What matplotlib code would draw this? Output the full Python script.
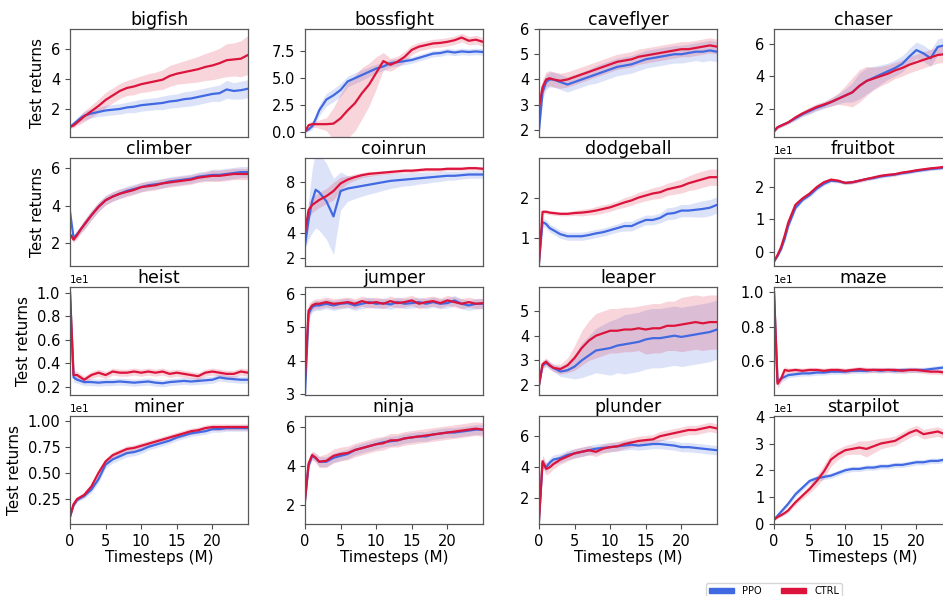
import numpy as np
import matplotlib
matplotlib.use("Agg")
import matplotlib.pyplot as plt
from matplotlib.patches import Patch
from matplotlib.ticker import MaxNLocator

# timesteps (M) at which the curves were read
steps = [0, 0.5, 1, 1.5, 2, 3, 4, 5, 6, 7, 8, 9, 10, 11, 12, 13, 14, 15, 16, 17, 18, 19, 20, 21, 22, 23, 24, 25]

envs = ["bigfish", "bossfight", "caveflyer", "chaser",
        "climber", "coinrun", "dodgeball", "fruitbot",
        "heist", "jumper", "leaper", "maze",
        "miner", "ninja", "plunder", "starpilot"]

bigfish_ppo = [0.8, 1.0, 1.2, 1.4, 1.55, 1.7, 1.8, 1.9, 1.95, 2.0, 2.1, 2.15, 2.25, 2.3, 2.35, 2.4, 2.5, 2.55, 2.65, 2.7, 2.8, 2.9, 3.0, 3.05, 3.3, 3.2, 3.25, 3.35]
bigfish_ppo_sd = [0.1, 0.15, 0.2, 0.25, 0.3, 0.3, 0.3, 0.35, 0.35, 0.35, 0.35, 0.4, 0.4, 0.4, 0.4, 0.45, 0.45, 0.45, 0.5, 0.5, 0.5, 0.5, 0.5, 0.55, 0.6, 0.55, 0.6, 0.6]
bigfish_ctrl = [0.8, 0.9, 1.1, 1.3, 1.5, 1.85, 2.2, 2.6, 2.9, 3.2, 3.4, 3.5, 3.65, 3.75, 3.85, 3.95, 4.2, 4.35, 4.45, 4.55, 4.65, 4.8, 4.9, 5.05, 5.25, 5.3, 5.35, 5.6]
bigfish_ctrl_sd = [0.1, 0.15, 0.2, 0.3, 0.35, 0.4, 0.45, 0.5, 0.5, 0.5, 0.5, 0.55, 0.55, 0.6, 0.6, 0.65, 0.7, 0.7, 0.75, 0.8, 0.85, 0.9, 0.95, 1.0, 1.1, 1.1, 1.2, 1.3]

bossfight_ppo = [0.0, 0.2, 0.5, 1.2, 2.0, 3.0, 3.4, 3.9, 4.7, 5.0, 5.3, 5.6, 5.9, 6.1, 6.4, 6.5, 6.6, 6.7, 6.9, 7.1, 7.3, 7.35, 7.5, 7.4, 7.5, 7.45, 7.5, 7.45]
bossfight_ppo_sd = [0.05, 0.2, 0.3, 0.4, 0.5, 0.6, 0.6, 0.6, 0.5, 0.5, 0.5, 0.45, 0.4, 0.4, 0.35, 0.35, 0.35, 0.3, 0.3, 0.3, 0.3, 0.3, 0.3, 0.3, 0.3, 0.3, 0.3, 0.3]
bossfight_ctrl = [0.0, 0.6, 0.7, 0.7, 0.7, 0.7, 0.75, 1.25, 2.0, 2.65, 3.6, 4.4, 5.5, 6.6, 6.25, 6.55, 7.0, 7.65, 7.95, 8.1, 8.25, 8.3, 8.4, 8.55, 8.8, 8.5, 8.6, 8.4]
bossfight_ctrl_sd = [0.05, 0.2, 0.3, 0.3, 0.4, 0.6, 1.5, 2.3, 2.6, 2.6, 2.4, 2.0, 1.5, 0.8, 0.6, 0.5, 0.5, 0.45, 0.4, 0.4, 0.4, 0.4, 0.4, 0.4, 0.4, 0.4, 0.4, 0.4]

caveflyer_ppo = [2.0, 3.5, 3.9, 4.0, 4.0, 3.9, 3.8, 3.9, 4.0, 4.1, 4.2, 4.3, 4.4, 4.5, 4.55, 4.6, 4.7, 4.8, 4.85, 4.9, 4.95, 5.0, 5.0, 5.05, 5.1, 5.1, 5.15, 5.1]
caveflyer_ppo_sd = [0.2, 0.3, 0.3, 0.3, 0.3, 0.3, 0.3, 0.3, 0.3, 0.3, 0.35, 0.35, 0.35, 0.35, 0.35, 0.35, 0.35, 0.35, 0.35, 0.35, 0.35, 0.35, 0.35, 0.35, 0.35, 0.4, 0.4, 0.4]
caveflyer_ctrl = [2.9, 3.7, 4.0, 4.05, 4.0, 3.95, 4.0, 4.1, 4.2, 4.3, 4.4, 4.5, 4.6, 4.7, 4.75, 4.8, 4.9, 4.95, 5.0, 5.05, 5.1, 5.15, 5.2, 5.2, 5.25, 5.3, 5.35, 5.3]
caveflyer_ctrl_sd = [0.2, 0.3, 0.3, 0.3, 0.3, 0.3, 0.3, 0.3, 0.3, 0.3, 0.3, 0.3, 0.3, 0.3, 0.3, 0.3, 0.3, 0.3, 0.3, 0.3, 0.3, 0.3, 0.3, 0.3, 0.3, 0.3, 0.3, 0.3]

chaser_ppo = [0.6, 0.85, 0.95, 1.05, 1.15, 1.4, 1.65, 1.85, 2.05, 2.2, 2.4, 2.6, 2.8, 3.0, 3.4, 3.7, 3.9, 4.1, 4.3, 4.5, 4.75, 5.2, 5.6, 5.4, 5.1, 5.8, 5.9, 6.0]
chaser_ppo_sd = [0.05, 0.1, 0.1, 0.1, 0.1, 0.15, 0.15, 0.2, 0.2, 0.2, 0.25, 0.3, 0.4, 0.6, 0.8, 0.8, 0.7, 0.6, 0.5, 0.5, 0.5, 0.5, 0.5, 0.5, 0.5, 0.5, 0.5, 0.5]
chaser_ctrl = [0.6, 0.85, 0.95, 1.05, 1.15, 1.45, 1.7, 1.9, 2.1, 2.25, 2.4, 2.6, 2.8, 3.0, 3.4, 3.7, 3.85, 4.0, 4.15, 4.35, 4.5, 4.7, 4.85, 5.0, 5.15, 5.3, 5.35, 5.4]
chaser_ctrl_sd = [0.05, 0.1, 0.1, 0.1, 0.1, 0.15, 0.15, 0.2, 0.2, 0.2, 0.25, 0.35, 0.6, 0.9, 1.0, 0.9, 0.7, 0.6, 0.55, 0.5, 0.5, 0.5, 0.5, 0.5, 0.5, 0.5, 0.5, 0.5]

climber_ppo = [3.7, 2.3, 2.5, 2.75, 3.0, 3.5, 3.95, 4.3, 4.5, 4.65, 4.8, 4.9, 5.0, 5.1, 5.15, 5.2, 5.3, 5.35, 5.4, 5.45, 5.55, 5.6, 5.65, 5.65, 5.7, 5.75, 5.8, 5.8]
climber_ppo_sd = [0.1, 0.15, 0.2, 0.2, 0.25, 0.25, 0.25, 0.25, 0.25, 0.25, 0.25, 0.25, 0.25, 0.25, 0.25, 0.25, 0.25, 0.25, 0.25, 0.25, 0.25, 0.25, 0.3, 0.3, 0.3, 0.3, 0.3, 0.3]
climber_ctrl = [2.5, 2.2, 2.45, 2.75, 3.0, 3.5, 3.95, 4.3, 4.5, 4.65, 4.75, 4.85, 5.0, 5.05, 5.1, 5.2, 5.25, 5.3, 5.35, 5.4, 5.5, 5.55, 5.6, 5.6, 5.65, 5.7, 5.7, 5.7]
climber_ctrl_sd = [0.1, 0.15, 0.2, 0.2, 0.25, 0.25, 0.25, 0.25, 0.25, 0.25, 0.25, 0.25, 0.25, 0.25, 0.25, 0.25, 0.25, 0.25, 0.25, 0.25, 0.25, 0.25, 0.3, 0.3, 0.3, 0.3, 0.3, 0.3]

coinrun_ppo = [3.0, 5.0, 6.5, 7.4, 7.2, 6.5, 5.3, 7.3, 7.5, 7.6, 7.7, 7.8, 7.9, 8.0, 8.1, 8.15, 8.2, 8.25, 8.3, 8.35, 8.4, 8.45, 8.5, 8.5, 8.55, 8.6, 8.6, 8.6]
coinrun_ppo_sd = [0.2, 1.5, 2.5, 3.0, 3.0, 3.0, 3.0, 1.5, 1.0, 0.9, 0.8, 0.75, 0.7, 0.65, 0.6, 0.55, 0.5, 0.5, 0.45, 0.45, 0.4, 0.4, 0.35, 0.35, 0.3, 0.3, 0.3, 0.3]
coinrun_ctrl = [4.0, 5.8, 6.2, 6.4, 6.6, 6.9, 7.3, 7.9, 8.2, 8.4, 8.55, 8.65, 8.7, 8.75, 8.8, 8.85, 8.9, 8.9, 8.95, 9.0, 9.0, 9.0, 9.05, 9.05, 9.05, 9.1, 9.1, 9.05]
coinrun_ctrl_sd = [0.3, 0.6, 0.6, 0.6, 0.6, 0.6, 0.7, 0.5, 0.3, 0.25, 0.2, 0.2, 0.15, 0.15, 0.15, 0.15, 0.15, 0.15, 0.15, 0.15, 0.15, 0.15, 0.15, 0.15, 0.15, 0.15, 0.15, 0.15]

dodgeball_ppo = [0.4, 1.4, 1.35, 1.25, 1.2, 1.1, 1.05, 1.05, 1.05, 1.08, 1.12, 1.15, 1.2, 1.25, 1.3, 1.3, 1.38, 1.45, 1.45, 1.5, 1.6, 1.62, 1.68, 1.68, 1.7, 1.72, 1.75, 1.82]
dodgeball_ppo_sd = [0.05, 0.1, 0.1, 0.1, 0.1, 0.1, 0.1, 0.1, 0.1, 0.1, 0.1, 0.1, 0.1, 0.1, 0.12, 0.12, 0.12, 0.12, 0.12, 0.12, 0.15, 0.15, 0.15, 0.15, 0.18, 0.2, 0.2, 0.2]
dodgeball_ctrl = [0.4, 1.65, 1.65, 1.63, 1.62, 1.6, 1.6, 1.62, 1.63, 1.65, 1.68, 1.72, 1.76, 1.82, 1.88, 1.93, 2.0, 2.05, 2.1, 2.13, 2.2, 2.24, 2.28, 2.35, 2.4, 2.45, 2.5, 2.5]
dodgeball_ctrl_sd = [0.05, 0.05, 0.05, 0.05, 0.05, 0.05, 0.05, 0.06, 0.08, 0.08, 0.1, 0.1, 0.1, 0.1, 0.12, 0.12, 0.13, 0.13, 0.14, 0.15, 0.15, 0.16, 0.17, 0.18, 0.2, 0.2, 0.2, 0.2]

fruitbot_ppo = [-3.0, -1.3, 0.8, 4.0, 8.0, 13.5, 16.0, 17.5, 19.5, 21.0, 22.0, 21.8, 21.3, 21.5, 22.0, 22.5, 22.8, 23.3, 23.6, 23.9, 24.3, 24.6, 25.0, 25.3, 25.6, 25.8, 26.0, 26.2]
fruitbot_ppo_sd = [0.2, 0.4, 0.5, 0.6, 0.6, 0.6, 0.6, 0.6, 0.6, 0.6, 0.6, 0.5, 0.5, 0.5, 0.5, 0.5, 0.5, 0.5, 0.5, 0.5, 0.5, 0.5, 0.5, 0.5, 0.5, 0.5, 0.5, 0.5]
fruitbot_ctrl = [-3.0, -1.0, 1.5, 5.0, 9.0, 14.5, 16.5, 18.0, 20.0, 21.5, 22.3, 22.0, 21.3, 21.5, 22.0, 22.5, 23.0, 23.5, 23.8, 24.0, 24.5, 24.8, 25.2, 25.5, 25.8, 26.0, 26.3, 26.4]
fruitbot_ctrl_sd = [0.2, 0.4, 0.5, 0.6, 0.6, 0.6, 0.6, 0.6, 0.6, 0.6, 0.6, 0.5, 0.5, 0.5, 0.5, 0.5, 0.5, 0.5, 0.5, 0.5, 0.5, 0.5, 0.5, 0.5, 0.5, 0.5, 0.5, 0.5]

heist_ppo = [10.0, 2.8, 2.6, 2.5, 2.4, 2.4, 2.35, 2.4, 2.4, 2.45, 2.4, 2.35, 2.4, 2.45, 2.35, 2.3, 2.4, 2.45, 2.5, 2.45, 2.5, 2.55, 2.6, 2.8, 2.7, 2.65, 2.6, 2.6]
heist_ppo_sd = [0.1, 0.4, 0.3, 0.3, 0.3, 0.3, 0.3, 0.3, 0.3, 0.3, 0.3, 0.3, 0.3, 0.3, 0.3, 0.3, 0.3, 0.3, 0.3, 0.3, 0.3, 0.3, 0.3, 0.3, 0.3, 0.3, 0.3, 0.3]
heist_ctrl = [10.0, 3.0, 3.0, 2.8, 2.6, 3.0, 3.2, 3.0, 3.3, 3.2, 3.2, 3.3, 3.2, 3.3, 3.2, 3.3, 3.1, 3.2, 3.1, 3.0, 2.9, 3.2, 3.3, 3.2, 3.1, 3.1, 3.3, 3.2]
heist_ctrl_sd = [0.1, 0.4, 0.3, 0.3, 0.3, 0.3, 0.3, 0.3, 0.3, 0.3, 0.3, 0.3, 0.3, 0.3, 0.3, 0.3, 0.3, 0.3, 0.3, 0.3, 0.3, 0.3, 0.3, 0.3, 0.3, 0.3, 0.3, 0.3]

jumper_ppo = [3.0, 5.4, 5.6, 5.65, 5.65, 5.7, 5.65, 5.7, 5.72, 5.65, 5.7, 5.75, 5.7, 5.72, 5.68, 5.75, 5.7, 5.72, 5.75, 5.7, 5.75, 5.7, 5.72, 5.8, 5.7, 5.65, 5.7, 5.7]
jumper_ppo_sd = [0.05, 0.2, 0.15, 0.15, 0.15, 0.15, 0.15, 0.15, 0.15, 0.15, 0.15, 0.15, 0.15, 0.15, 0.15, 0.15, 0.15, 0.15, 0.15, 0.15, 0.15, 0.15, 0.15, 0.15, 0.15, 0.15, 0.15, 0.15]
jumper_ctrl = [3.5, 5.5, 5.65, 5.7, 5.7, 5.75, 5.7, 5.72, 5.75, 5.7, 5.78, 5.72, 5.75, 5.7, 5.78, 5.72, 5.75, 5.8, 5.7, 5.75, 5.78, 5.72, 5.8, 5.75, 5.7, 5.75, 5.7, 5.72]
jumper_ctrl_sd = [0.05, 0.2, 0.15, 0.15, 0.15, 0.15, 0.15, 0.15, 0.15, 0.15, 0.15, 0.15, 0.15, 0.15, 0.15, 0.15, 0.15, 0.15, 0.15, 0.15, 0.15, 0.15, 0.15, 0.15, 0.15, 0.15, 0.15, 0.15]

leaper_ppo = [2.0, 2.8, 2.9, 2.8, 2.7, 2.55, 2.6, 2.75, 3.0, 3.2, 3.4, 3.45, 3.5, 3.6, 3.65, 3.7, 3.75, 3.85, 3.9, 3.9, 3.95, 4.0, 3.95, 4.0, 4.05, 4.1, 4.15, 4.25]
leaper_ppo_sd = [0.1, 0.15, 0.15, 0.15, 0.15, 0.2, 0.3, 0.5, 0.7, 0.8, 0.9, 1.0, 1.1, 1.1, 1.2, 1.2, 1.2, 1.2, 1.2, 1.2, 1.2, 1.2, 1.2, 1.2, 1.2, 1.2, 1.2, 1.2]
leaper_ctrl = [2.0, 2.85, 2.95, 2.8, 2.7, 2.65, 2.8, 3.1, 3.5, 3.8, 4.0, 4.1, 4.2, 4.2, 4.25, 4.25, 4.3, 4.25, 4.3, 4.3, 4.4, 4.4, 4.45, 4.5, 4.55, 4.5, 4.55, 4.55]
leaper_ctrl_sd = [0.1, 0.15, 0.15, 0.15, 0.15, 0.2, 0.3, 0.5, 0.7, 0.8, 0.9, 0.9, 0.9, 0.9, 0.9, 0.9, 0.9, 1.0, 1.0, 1.0, 1.0, 1.0, 1.1, 1.1, 1.1, 1.1, 1.1, 1.1]

maze_ppo = [10.0, 4.8, 5.0, 5.1, 5.2, 5.25, 5.3, 5.3, 5.35, 5.35, 5.4, 5.4, 5.4, 5.45, 5.45, 5.45, 5.5, 5.45, 5.5, 5.45, 5.5, 5.5, 5.5, 5.5, 5.55, 5.6, 5.65, 5.65]
maze_ppo_sd = [0.1, 0.2, 0.2, 0.2, 0.15, 0.15, 0.15, 0.15, 0.15, 0.15, 0.15, 0.15, 0.15, 0.15, 0.15, 0.15, 0.15, 0.15, 0.15, 0.15, 0.15, 0.15, 0.15, 0.15, 0.15, 0.15, 0.15, 0.15]
maze_ctrl = [10.0, 4.7, 5.0, 5.5, 5.45, 5.5, 5.45, 5.5, 5.5, 5.45, 5.5, 5.5, 5.45, 5.5, 5.55, 5.5, 5.5, 5.5, 5.5, 5.5, 5.45, 5.5, 5.5, 5.45, 5.4, 5.4, 5.35, 5.35]
maze_ctrl_sd = [0.1, 0.25, 0.2, 0.2, 0.15, 0.15, 0.15, 0.15, 0.15, 0.15, 0.15, 0.15, 0.15, 0.15, 0.15, 0.15, 0.15, 0.15, 0.15, 0.15, 0.15, 0.15, 0.15, 0.15, 0.15, 0.15, 0.15, 0.15]

miner_ppo = [0.8, 1.9, 2.4, 2.6, 2.8, 3.4, 4.4, 5.8, 6.3, 6.6, 6.9, 7.0, 7.2, 7.5, 7.7, 7.9, 8.1, 8.4, 8.6, 8.8, 8.9, 9.0, 9.2, 9.2, 9.3, 9.3, 9.3, 9.3]
miner_ppo_sd = [0.1, 0.2, 0.2, 0.2, 0.25, 0.3, 0.35, 0.35, 0.35, 0.35, 0.35, 0.35, 0.35, 0.3, 0.3, 0.3, 0.3, 0.3, 0.3, 0.3, 0.3, 0.3, 0.3, 0.3, 0.3, 0.3, 0.3, 0.3]
miner_ctrl = [0.8, 2.0, 2.5, 2.7, 2.9, 3.7, 5.0, 6.1, 6.7, 7.0, 7.3, 7.4, 7.6, 7.8, 8.0, 8.2, 8.4, 8.6, 8.8, 9.0, 9.1, 9.3, 9.4, 9.4, 9.4, 9.4, 9.4, 9.4]
miner_ctrl_sd = [0.1, 0.2, 0.2, 0.2, 0.25, 0.3, 0.3, 0.3, 0.3, 0.3, 0.3, 0.3, 0.3, 0.3, 0.3, 0.3, 0.3, 0.3, 0.3, 0.3, 0.3, 0.3, 0.3, 0.3, 0.3, 0.3, 0.3, 0.3]

ninja_ppo = [2.2, 4.0, 4.5, 4.4, 4.2, 4.2, 4.4, 4.5, 4.6, 4.8, 4.9, 5.0, 5.1, 5.2, 5.25, 5.3, 5.4, 5.45, 5.5, 5.5, 5.6, 5.65, 5.7, 5.7, 5.75, 5.8, 5.85, 5.85]
ninja_ppo_sd = [0.1, 0.2, 0.2, 0.2, 0.25, 0.25, 0.25, 0.25, 0.25, 0.25, 0.25, 0.25, 0.25, 0.25, 0.25, 0.25, 0.25, 0.25, 0.25, 0.25, 0.25, 0.25, 0.25, 0.25, 0.25, 0.25, 0.25, 0.25]
ninja_ctrl = [2.2, 4.1, 4.55, 4.4, 4.2, 4.25, 4.5, 4.6, 4.65, 4.8, 4.9, 5.0, 5.1, 5.15, 5.3, 5.3, 5.4, 5.45, 5.5, 5.55, 5.6, 5.65, 5.7, 5.75, 5.8, 5.85, 5.9, 5.85]
ninja_ctrl_sd = [0.1, 0.2, 0.2, 0.25, 0.3, 0.35, 0.35, 0.35, 0.35, 0.35, 0.35, 0.35, 0.35, 0.35, 0.35, 0.35, 0.35, 0.35, 0.35, 0.35, 0.35, 0.35, 0.35, 0.35, 0.35, 0.35, 0.35, 0.35]

plunder_ppo = [0.6, 4.3, 4.0, 4.3, 4.5, 4.6, 4.8, 4.9, 5.0, 5.1, 5.2, 5.25, 5.3, 5.35, 5.4, 5.45, 5.4, 5.45, 5.5, 5.5, 5.45, 5.4, 5.3, 5.3, 5.25, 5.2, 5.15, 5.1]
plunder_ppo_sd = [0.1, 0.3, 0.3, 0.3, 0.3, 0.3, 0.3, 0.3, 0.3, 0.3, 0.3, 0.3, 0.3, 0.3, 0.3, 0.3, 0.3, 0.3, 0.3, 0.3, 0.3, 0.3, 0.3, 0.3, 0.3, 0.3, 0.3, 0.3]
plunder_ctrl = [0.6, 4.4, 3.9, 4.0, 4.2, 4.5, 4.7, 4.9, 5.0, 5.1, 5.0, 5.2, 5.3, 5.35, 5.5, 5.6, 5.7, 5.75, 5.8, 6.0, 6.1, 6.2, 6.3, 6.4, 6.4, 6.5, 6.6, 6.5]
plunder_ctrl_sd = [0.1, 0.4, 0.4, 0.35, 0.3, 0.3, 0.3, 0.3, 0.3, 0.3, 0.3, 0.3, 0.3, 0.3, 0.3, 0.3, 0.3, 0.3, 0.3, 0.3, 0.3, 0.3, 0.3, 0.3, 0.3, 0.3, 0.3, 0.3]

starpilot_ppo = [1.5, 3.0, 4.5, 6.0, 7.5, 11.0, 13.5, 16.0, 17.0, 17.5, 18.0, 19.0, 20.0, 20.5, 20.5, 21.0, 21.0, 21.5, 21.5, 22.0, 22.0, 22.5, 23.0, 23.0, 23.5, 23.5, 24.0, 24.0]
starpilot_ppo_sd = [0.3, 0.5, 0.7, 0.8, 0.9, 1.0, 1.0, 1.0, 1.0, 1.0, 1.0, 1.0, 1.0, 1.0, 1.0, 1.0, 1.0, 1.0, 1.0, 1.0, 1.0, 1.0, 1.0, 1.0, 1.0, 1.0, 1.0, 1.0]
starpilot_ctrl = [1.5, 2.5, 3.2, 4.0, 5.0, 8.0, 10.5, 13.0, 16.0, 19.5, 24.0, 26.0, 27.5, 28.0, 28.5, 28.0, 29.0, 30.0, 30.5, 31.0, 32.5, 34.0, 35.0, 33.5, 34.0, 34.5, 33.5, 33.0]
starpilot_ctrl_sd = [0.3, 0.5, 0.6, 0.7, 0.8, 1.0, 1.2, 1.5, 2.0, 2.5, 2.5, 2.0, 1.8, 2.0, 2.5, 3.0, 2.5, 2.0, 1.8, 1.8, 1.8, 1.8, 1.8, 1.8, 1.8, 1.8, 1.8, 1.8]

# y limits
ylims = {
    "bigfish": (0.13, 7.33), "bossfight": (-0.5, 9.6), "caveflyer": (1.72, 6.0), "chaser": (0.25, 6.9),
    "climber": (0.8, 6.55), "coinrun": (1.4, 9.9), "dodgeball": (0.32, 2.97), "fruitbot": (-4.4, 29.0),
    "heist": (1.3, 10.5), "jumper": (2.98, 6.2), "leaper": (1.6, 5.97), "maze": (4.05, 10.3),
    "miner": (0.1, 10.46), "ninja": (1.0, 6.55), "plunder": (0.36, 7.3), "starpilot": (-0.1, 40.3),
}

ppo_color = "royalblue"
ctrl_color = "crimson"

W, H = 943, 596
col_left = [70, 305, 539, 774]
row_top = [29, 158, 287, 416]
ax_w, ax_h = 178, 108

fig = plt.figure(figsize=(W / 100, H / 100), dpi=100)
t = np.array(steps)

for i, env in enumerate(envs):
    r, c = divmod(i, 4)
    ax = fig.add_axes([col_left[c] / W, 1 - (row_top[r] + ax_h) / H, ax_w / W, ax_h / H])

    for method, color in [("ppo", ppo_color), ("ctrl", ctrl_color)]:
        mean = np.array(globals()[f"{env}_{method}"])
        sd = np.array(globals()[f"{env}_{method}_sd"])
        ax.fill_between(t, mean - sd, mean + sd, color=color, alpha=0.18, linewidth=0)
        ax.plot(t, mean, color=color, linewidth=1.6)

    ax.set_xlim(0, 25)
    ax.set_ylim(*ylims[env])
    ax.yaxis.set_major_locator(MaxNLocator(nbins=5, steps=[1, 2, 2.5, 5, 10]))
    ax.ticklabel_format(axis="y", style="sci", scilimits=(-1, 1))
    ax.yaxis.get_offset_text().set_fontsize(7.5)
    ax.tick_params(labelsize=10.5, color="0.3")
    for s in ax.spines.values():
        s.set_color("0.35")
        s.set_linewidth(0.9)

    ax.set_title(env, fontsize=12.5, pad=3)
    if r == 3:
        ax.set_xticks([0, 5, 10, 15, 20])
        ax.set_xlabel("Timesteps (M)", fontsize=11, labelpad=1)
    else:
        ax.set_xticks([])
    if c == 0:
        ax.set_ylabel("Test returns", fontsize=11)

handles = [Patch(color=ppo_color, label="PPO"), Patch(color=ctrl_color, label="CTRL")]
fig.legend(handles=handles, ncol=2, fontsize=7, loc="upper center",
           bbox_to_anchor=(774 / W, 1 - 583 / H), borderaxespad=0, handlelength=2.6, handleheight=0.55,
           columnspacing=2.0, frameon=True, fancybox=True, borderpad=0.3)

fig.savefig("out.png", dpi=100)
